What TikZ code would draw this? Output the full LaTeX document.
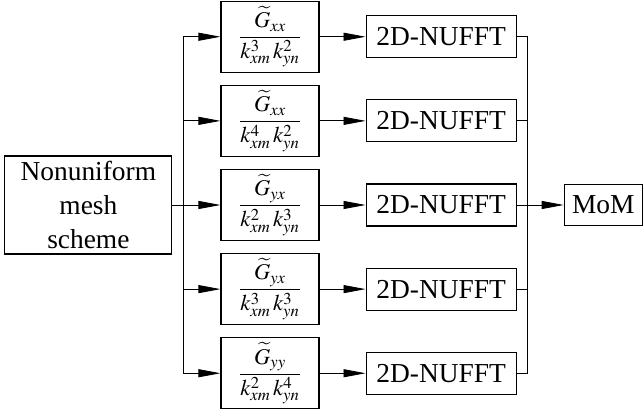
\documentclass[tikz,border=0pt]{standalone}
\usepackage{amsmath}
\usepackage{mathptmx}
\usepackage{fontspec}
\setmainfont{Liberation Serif}
\usepackage{tikz}
\usetikzlibrary{positioning}
\usetikzlibrary{arrows.meta}

\begin{document}
\begin{tikzpicture}[every node/.style={draw, rectangle, line width=0.8pt, inner sep=0pt, font=\fontsize{19.5}{24.5}\selectfont},
    frac/.style={minimum width=2.45cm, minimum height=1.775cm, font=\fontsize{16}{18}\selectfont},
    nufft/.style={minimum width=3.75cm, minimum height=1.05cm},
    >={Triangle[length=0.55cm, width=0.2cm]}, line width=0.6pt]
    \useasboundingbox (0,0) rectangle (16.1,10.225);
	\node[frac](gyxa) at (6.75,5.1) {$\displaystyle\frac{\widetilde{G}_{yx}}{k^{2}_{xm}\,k^{3}_{yn}}$};
%     % fractions above and below
    \node[frac, above=0.3cm of gyxa](gxxb) {$\displaystyle\frac{\widetilde{G}_{xx}}{k^{4}_{xm}\,k^{2}_{yn}}$};
    \node[frac, above=0.3cm of gxxb](gxxa) {$\displaystyle\frac{\widetilde{G}_{xx}}{k^{3}_{xm}\,k^{2}_{yn}}$};
    \node[frac, below=0.3cm of gyxa](gyxb) {$\displaystyle\frac{\widetilde{G}_{yx}}{k^{3}_{xm}\,k^{3}_{yn}}$};
    \node[frac, below=0.3cm of gyxb](gyy) {$\displaystyle\frac{\widetilde{G}_{yy}}{k^{2}_{xm}\,k^{4}_{yn}}$};
    % mesh
    \node[left=1.2cm of gyxa, minimum width=4.175cm, minimum height=2.45cm, align=center](mesh) {Nonuniform\\mesh\\scheme};
    \coordinate[right=0.275cm of mesh.east](split);
    \draw (mesh) -- (split);
    \draw[->] (split) |- (gxxa);
    \draw[->] (split) |- (gxxb);
    \draw[->] (split) -- (gyxa);
    \draw[->] (split) |- (gyxb);
    \draw[->] (split) |- (gyy);
    % NUFFT
    \node[nufft, right=1.15cm of gxxa](nufftgxxa) {2D-NUFFT};
    \node[nufft, right=1.15cm of gxxb](nufftgxxb) {2D-NUFFT};
    \node[nufft, right=1.15cm of gyxa](nufftgyxa) {2D-NUFFT};
    \node[nufft, right=1.15cm of gyxb](nufftgyxb) {2D-NUFFT};
    \node[nufft, right=1.15cm of gyy](nufftgyy) {2D-NUFFT};
    \draw[->] (gxxa) -> (nufftgxxa);
    \draw[->] (gxxb) -> (nufftgxxb);
    \draw[->] (gyxa) -> (nufftgyxa);
    \draw[->] (gyxb) -> (nufftgyxb);
    \draw[->] (gyy) -> (nufftgyy);
    % MoM
    \node[right=1.175cm of nufftgyxa, minimum width=1.95cm, minimum height=1.025cm](mom) {MoM};
    \coordinate[right=0.275cm of nufftgyxa.east](merge);
    \draw (nufftgxxa) -| (merge);
    \draw (nufftgxxb) -| (merge);
    \draw (nufftgyxa) -- (merge);
    \draw (nufftgyxb) -| (merge);
    \draw (nufftgyy) -| (merge);
    \draw[->] (merge) -> (mom);
	\end{tikzpicture}
\end{document}
